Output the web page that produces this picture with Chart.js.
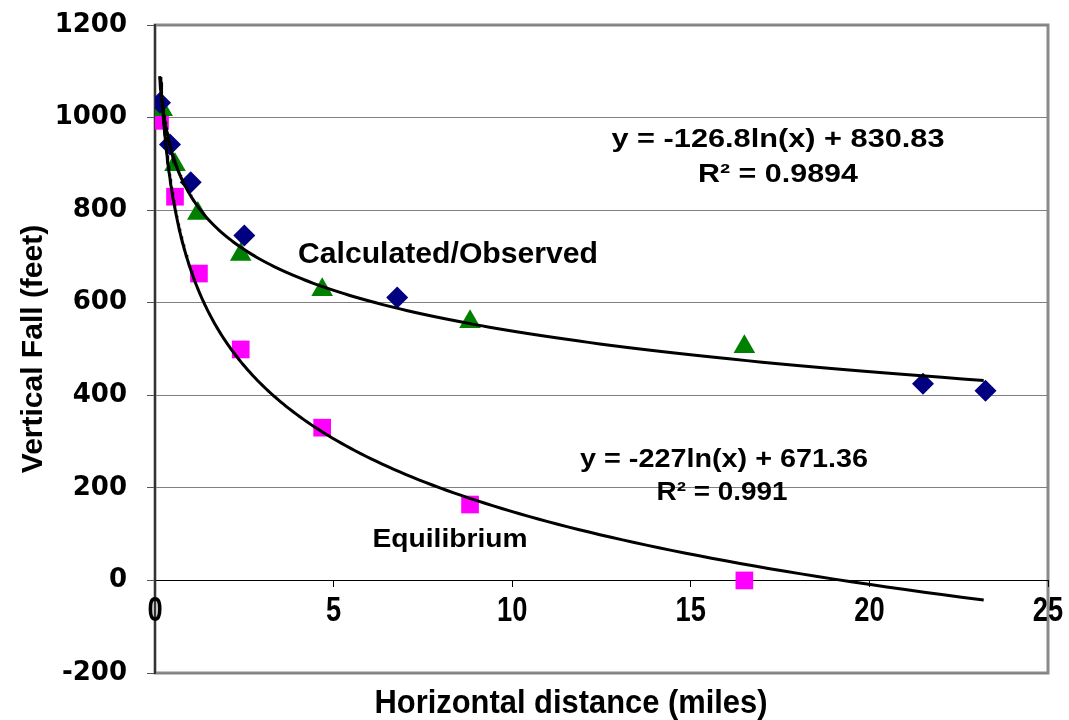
<!DOCTYPE html>
<html>
<head>
<meta charset="utf-8">
<script src="https://cdn.jsdelivr.net/npm/chart.js@4.4.1/dist/chart.umd.min.js"></script>
<style>
  html, body { margin: 0; padding: 0; background: #fff; }
  #wrap { width: 1069px; height: 720px; position: relative; }
</style>
</head>
<body>
<div id="wrap"><canvas id="c"></canvas></div>
<script>
// ---- data ----
const observedX = [0.14, 0.42, 1.0, 2.5, 6.78, 21.5, 23.25];
const observedY = [1032, 942, 860, 745, 611, 425, 410];

const calculatedX = [0.2, 0.56, 1.2, 2.4, 4.68, 8.82, 16.5];
const calculatedY = [1017, 898, 793, 704, 628, 559, 505];

const equilibriumX = [0.14, 0.56, 1.23, 2.4, 4.68, 8.82, 16.5];
const equilibriumY = [993, 829, 663, 499, 330, 164, 0];

// logarithmic trendlines: y = a*ln(x) + b  (coefficients printed on the chart)
const upperTrend = { a: -126.8, b: 830.83, from: 0.13, to: 23.2 };
const lowerTrend = { a: -227, b: 671.36, from: 0.16, to: 23.2 };

const xTicks = [0, 5, 10, 15, 20, 25];
const yTicks = [-200, 0, 200, 400, 600, 800, 1000, 1200];

const xTitle = 'Horizontal distance (miles)';
const yTitle = 'Vertical Fall (feet)';

const labels = [
  { text: 'y = -126.8ln(x) + 830.83', x: 778, y: 140, size: 25, w: 333 },
  { text: 'R² = 0.9894', x: 778, y: 175, size: 25, w: 160 },
  { text: 'Calculated/Observed', x: 448, y: 255, size: 29, w: 300 },
  { text: 'y = -227ln(x) + 671.36', x: 724, y: 460, size: 25, w: 288 },
  { text: 'R² = 0.991', x: 722, y: 493, size: 25, w: 131 },
  { text: 'Equilibrium', x: 450, y: 540, size: 26, w: 155 }
];

// ---- build ----
const zip = (xs, ys) => xs.map((x, i) => ({ x, y: ys[i] }));
function trendPoints(t) {
  const pts = [];
  const n = 200;
  const l0 = Math.log(t.from), l1 = Math.log(t.to);
  for (let i = 0; i <= n; i++) {
    const x = Math.exp(l0 + (l1 - l0) * i / n);
    pts.push({ x, y: t.a * Math.log(x) + t.b });
  }
  return pts;
}

const SANS = '"Liberation Sans", Arial, sans-serif';

// draw text centred at (cx, cy), stretched horizontally by sx (or fitted to width w)
function drawText(ctx, text, cx, cy, size, opts) {
  ctx.save();
  ctx.font = 'bold ' + size + 'px ' + SANS;
  ctx.fillStyle = '#000';
  ctx.textAlign = 'center';
  ctx.textBaseline = 'middle';
  let sx = opts.sx || 1;
  if (opts.w) sx = opts.w / ctx.measureText(text).width;
  ctx.translate(cx, cy);
  ctx.scale(sx, 1);
  ctx.fillText(text, 0, 0);
  ctx.restore();
}

const frame = {
  id: 'frame',
  beforeDraw(chart) {
    const { ctx, chartArea: a } = chart;
    ctx.save();
    ctx.strokeStyle = '#8a8a8a';
    ctx.lineWidth = 3;
    ctx.strokeRect(a.left, a.top, a.right - a.left, a.bottom - a.top);
    ctx.restore();
  },
  afterDraw(chart) {
    const { ctx, scales } = chart;
    // x tick labels just below the zero line
    const y0 = scales.y.getPixelForValue(0);
    xTicks.forEach(v => {
      drawText(ctx, String(v), scales.x.getPixelForValue(v), y0 + 31, 35, { sx: 0.78 });
    });
    // x axis title
    drawText(ctx, xTitle, 571, 704, 34, { w: 393 });
    // annotations
    labels.forEach(l => drawText(ctx, l.text, l.x, l.y, l.size, { w: l.w }));
  }
};

new Chart(document.getElementById('c'), {
  type: 'scatter',
  data: {
    datasets: [
      { type: 'line', data: trendPoints(upperTrend), borderColor: '#000', borderWidth: 3,
        pointRadius: 0, fill: false, tension: 0, order: 0 },
      { type: 'line', data: trendPoints(lowerTrend), borderColor: '#000', borderWidth: 3,
        pointRadius: 0, fill: false, tension: 0, order: 0 },
      { label: 'Observed', data: zip(observedX, observedY), pointStyle: 'rectRot',
        pointRadius: 11, backgroundColor: '#000080', borderColor: '#000080', borderWidth: 0, order: 1 },
      { label: 'Calculated', data: zip(calculatedX, calculatedY), pointStyle: 'triangle',
        pointRadius: 12.5, backgroundColor: '#008000', borderColor: '#008000', borderWidth: 0, order: 1 },
      { label: 'Equilibrium', data: zip(equilibriumX, equilibriumY), pointStyle: 'rect',
        pointRadius: 12.5, backgroundColor: '#ff00ff', borderColor: '#ff00ff', borderWidth: 0, order: 1 }
    ]
  },
  options: {
    responsive: true,
    maintainAspectRatio: false,
    animation: false,
    layout: { padding: { left: 0, top: 25, right: 21, bottom: 47 } },
    plugins: {
      legend: { display: false },
      tooltip: { enabled: false }
    },
    scales: {
      x: {
        type: 'linear', min: 0, max: 25, position: { y: 0 },
        afterBuildTicks: s => { s.ticks = xTicks.map(v => ({ value: v })); },
        ticks: { display: true, color: 'rgba(0,0,0,0)', font: { size: 12 } },
        grid: { drawOnChartArea: false, drawTicks: true, tickLength: 7, color: '#000', tickColor: '#000' },
        border: { display: false }
      },
      y: {
        type: 'linear', min: -200, max: 1200,
        afterBuildTicks: s => { s.ticks = yTicks.map(v => ({ value: v })); },
        afterFit: s => { s.width = 155; s.paddingTop = 0; s.paddingBottom = 0; },
        ticks: { color: '#000', font: { family: '"DejaVu Sans", sans-serif', weight: 'bold', size: 26 },
          padding: 20, callback: v => String(v) },
        grid: { color: c => (c.tick && c.tick.value === 0 ? '#000' : '#808080'), lineWidth: 1,
          tickLength: 8, tickColor: '#555' },
        border: { color: '#333', width: 2 },
        title: { display: true, text: yTitle, color: '#000',
          font: { family: SANS, weight: 'bold', size: 30 },
          padding: { top: 16, bottom: 0 } }
      }
    }
  },
  plugins: [frame]
});
</script>
</body>
</html>
